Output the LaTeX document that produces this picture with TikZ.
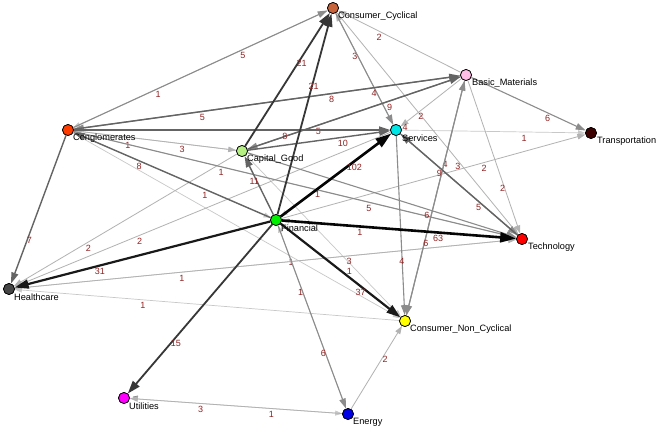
\documentclass[tikz,border=0pt]{standalone}
\usepackage{fontspec}
\setmainfont{Liberation Sans}
\usetikzlibrary{arrows.meta}
\definecolor{cCC}{RGB}{200,100,60}
\definecolor{cBM}{RGB}{255,190,230}
\definecolor{cCG}{RGB}{255,60,0}
\definecolor{cSV}{RGB}{0,230,230}
\definecolor{cTR}{RGB}{60,0,0}
\definecolor{cCAP}{RGB}{180,240,130}
\definecolor{cFIN}{RGB}{0,240,0}
\definecolor{cTEC}{RGB}{255,0,0}
\definecolor{cHC}{RGB}{70,70,70}
\definecolor{cCNC}{RGB}{255,255,0}
\definecolor{cUT}{RGB}{255,0,255}
\definecolor{cEN}{RGB}{0,0,230}
\definecolor{labred}{RGB}{145,35,35}
\definecolor{g1}{RGB}{200,200,200}
\definecolor{g2}{RGB}{178,178,178}
\definecolor{g3}{RGB}{140,140,140}
\definecolor{g4}{RGB}{100,100,100}
\definecolor{g5}{RGB}{55,55,55}
\definecolor{g6}{RGB}{25,25,25}
\definecolor{g7}{RGB}{5,5,5}
\tikzset{
  vtx/.style={circle, draw=black, line width=0.7pt, minimum size=11pt, inner sep=0pt},
  nlab/.style={anchor=west, inner sep=0pt, font=\fontsize{9.2}{10}\selectfont},
  elab/.style={inner sep=0pt, font=\fontsize{9}{10}\selectfont, text=labred, pos=0.667, yshift=-6pt},
  e1/.style={draw=g1, line width=0.7pt, -{Triangle[length=7pt,width=5pt]}},
  e2/.style={draw=g2, line width=0.8pt, -{Triangle[length=8pt,width=5.5pt]}},
  e3/.style={draw=g3, line width=1.1pt, -{Triangle[length=10pt,width=6.5pt]}},
  e4/.style={draw=g4, line width=1.4pt, -{Triangle[length=11pt,width=7pt]}},
  e5/.style={draw=g5, line width=1.8pt, -{Triangle[length=13pt,width=8.5pt]}},
  e6/.style={draw=g6, line width=2.2pt, -{Triangle[length=14pt,width=9pt]}},
  e7/.style={draw=g7, line width=2.6pt, -{Triangle[length=16pt,width=10pt]}},
}
\newcommand\myedge[5][]{\draw[#5] (#2) -- node[elab,#1]{#4} (#3);}
\begin{document}
\begin{tikzpicture}[x=1pt,y=-1pt]
\fill[white] (0,0) rectangle (661,431);
\useasboundingbox (0,0) rectangle (661,431);
% vertices
\node[vtx, fill=cCC]  (CC)  at (333,8)   {};
\node[vtx, fill=cBM]  (BM)  at (466,75)  {};
\node[vtx, fill=cCG]  (CG)  at (68,130)  {};
\node[vtx, fill=cSV]  (SV)  at (396,130) {};
\node[vtx, fill=cTR]  (TR)  at (591,133) {};
\node[vtx, fill=cCAP] (CAP) at (242,151) {};
\node[vtx, fill=cFIN] (FIN) at (276,220) {};
\node[vtx, fill=cTEC] (TEC) at (522,239) {};
\node[vtx, fill=cHC]  (HC)  at (9,289)   {};
\node[vtx, fill=cCNC] (CNC) at (405,321) {};
\node[vtx, fill=cUT]  (UT)  at (124,398) {};
\node[vtx, fill=cEN]  (EN)  at (348,414) {};
% edges (light first)
\myedge{CC}{CG}{1}{e1}
\myedge[yshift=-2pt]{CAP}{CG}{1}{e1}
\myedge{CG}{FIN}{1}{e1}
\myedge{TEC}{CG}{1}{e1}
\myedge{CG}{CNC}{1}{e1}
\myedge[yshift=-2pt]{CAP}{CNC}{1}{e1}
\myedge{SV}{FIN}{1}{e1}
\myedge{SV}{TR}{1}{e1}
\myedge{TEC}{FIN}{1}{e1}
\myedge{EN}{FIN}{1}{e1}
\myedge{TEC}{HC}{1}{e1}
\myedge{CNC}{HC}{1}{e1}
\myedge{UT}{EN}{1}{e1}
\myedge{BM}{CC}{2}{e2}
\myedge{SV}{CC}{3}{e2}
\myedge{CC}{TEC}{3}{e2}
\myedge{BM}{SV}{2}{e2}
\myedge{BM}{TEC}{2}{e2}
\myedge{CG}{CAP}{3}{e2}
\myedge{CAP}{HC}{2}{e2}
\myedge{SV}{HC}{2}{e2}
\myedge{FIN}{TR}{2}{e2}
\myedge{HC}{TEC}{3}{e2}
\myedge{EN}{UT}{3}{e2}
\myedge{EN}{CNC}{2}{e2}
\myedge{CG}{CC}{5}{e3}
\myedge{CC}{SV}{4}{e3}
\myedge{BM}{CG}{5}{e3}
\myedge{BM}{CAP}{5}{e3}
\myedge{CNC}{BM}{4}{e3}
\myedge{BM}{CNC}{6}{e3}
\myedge{BM}{TR}{6}{e3}
\myedge{CG}{TEC}{5}{e3}
\myedge{CAP}{TEC}{6}{e3}
\myedge{SV}{TEC}{5}{e3}
\myedge{SV}{CNC}{4}{e3}
\myedge{FIN}{EN}{6}{e3}
\myedge{CG}{BM}{8}{e4}
\myedge{CAP}{BM}{9}{e4}
\myedge{CG}{SV}{8}{e4}
\myedge{FIN}{CG}{8}{e4}
\myedge{CG}{HC}{7}{e4}
\myedge{CAP}{SV}{10}{e4}
\myedge{FIN}{CAP}{11}{e4}
\myedge{TEC}{SV}{9}{e4}
\myedge{CAP}{CC}{21}{e5}
\myedge{FIN}{CC}{21}{e5}
\myedge{FIN}{UT}{15}{e5}
\myedge{FIN}{HC}{31}{e6}
\myedge{FIN}{CNC}{37}{e6}
\myedge{FIN}{TEC}{63}{e7}
\myedge{FIN}{SV}{102}{e7}
% small marks beside some vertices
\node[inner sep=0pt, font=\fontsize{9}{10}\selectfont, text=labred] (sv4) at ([shift={(9,-3)}]SV.center) {4};
\draw[g4, line width=0.8pt] ([shift={(9,-1)}]FIN.center) coordinate (fa) -- ([shift={(14,-1)}]FIN.center) coordinate (fb);
\draw[g3, line width=0.8pt] ([shift={(9,-1)}]UT.center) coordinate (ua) -- ([shift={(14,-2)}]UT.center) coordinate (ub);
% redraw vertices on top
\foreach \n/\c in {CC/cCC,BM/cBM,CG/cCG,SV/cSV,TR/cTR,CAP/cCAP,FIN/cFIN,TEC/cTEC,HC/cHC,CNC/cCNC,UT/cUT,EN/cEN}
  \fill[\c, draw=black, line width=0.7pt] (\n.center) circle (5.5pt);
% vertex labels
\node[nlab] (tCC)  at ([shift={(5,8)}]CC.center)  {Consumer\_Cyclical};
\node[nlab] (tBM)  at ([shift={(6,8)}]BM.center)  {Basic\_Materials};
\node[nlab] (tCG)  at ([shift={(5,8)}]CG.center)  {Conglomerates};
\node[nlab] (tSV)  at ([shift={(6,8)}]SV.center)  {Services};
\node[nlab] (tTR)  at ([shift={(6,8)}]TR.center)  {Transportation};
\node[nlab] (tCAP) at ([shift={(5,8)}]CAP.center) {Capital\_Good};
\node[nlab] (tFIN) at ([shift={(5,8)}]FIN.center) {Financial};
\node[nlab] (tTEC) at ([shift={(6,8)}]TEC.center) {Technology};
\node[nlab] (tHC)  at ([shift={(5,8)}]HC.center)  {Healthcare};
\node[nlab] (tCNC) at ([shift={(5,8)}]CNC.center) {Consumer\_Non\_Cyclical};
\node[nlab] (tUT)  at ([shift={(5,8)}]UT.center)  {Utilities};
\node[nlab] (tEN)  at ([shift={(5,8)}]EN.center)  {Energy};
\end{tikzpicture}
\end{document}
